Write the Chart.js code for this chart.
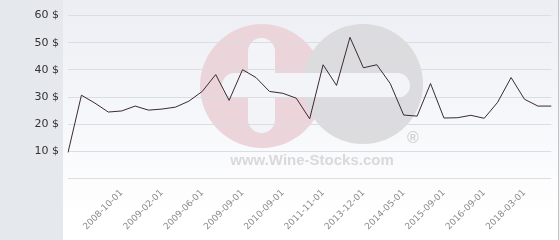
<!DOCTYPE html>
<html lang="en">
<head>
  <meta charset="UTF-8">
  <title>Wine price history</title>
  <script src="https://cdn.jsdelivr.net/npm/chart.js"></script>
  <style>
    html, body {
      margin: 0;
      padding: 0;
      background: #fff;
    }
    canvas { display: block; }
  </style>
</head>
<body>
  <canvas id="priceChart" width="560" height="240"></canvas>

  <script>
    // dates shown on the x axis (blank = point without a visible label)
    const dates = [
      '', '', '', '', '2008-10-01', '', '', '2009-02-01', '', '',
      '2009-06-01', '', '', '2009-09-01', '', '', '2010-09-01', '', '',
      '2011-11-01', '', '', '2013-12-01', '', '', '2014-05-01', '', '',
      '2015-09-01', '', '', '2016-09-01', '', '', '2018-03-01', '', ''
    ];
    // price in $
    const prices = [
      9.6, 30.7, 27.8, 24.5, 24.9, 26.7, 25.2, 25.6, 26.3, 28.5,
      32.1, 38.3, 28.8, 40.1, 37.2, 32.1, 31.4, 29.6, 22.0, 41.9,
      34.3, 52.0, 40.8, 41.9, 35.0, 23.4, 23.0, 35.0, 22.3, 22.4,
      23.3, 22.2, 28.1, 37.2, 29.2, 26.7, 26.7
    ];
    const yMin = 0, yMax = 60, yStep = 10;

    // backgrounds + watermark, drawn under grid and line
    const bgPlugin = {
      id: 'bg',
      beforeDraw(chart) {
        const ctx = chart.ctx;
        ctx.save();
        const g = ctx.createLinearGradient(0, 0, 0, 215);
        g.addColorStop(0, '#eceef4');
        g.addColorStop(1, '#ffffff');
        ctx.fillStyle = g;
        ctx.fillRect(63, 0, 495, 240);
        ctx.fillStyle = '#e5e9ed';
        ctx.fillRect(0, 0, 63, 240);
        ctx.fillStyle = '#f3f3f5';
        ctx.fillRect(558, 0, 2, 240);
        ctx.fillStyle = '#c2c3c7';
        ctx.fillRect(558, 0, 1, 240);

        // logo
        ctx.fillStyle = '#ebd5db';
        ctx.beginPath(); ctx.arc(262, 86, 62, 0, Math.PI * 2); ctx.fill();
        ctx.fillStyle = '#dcdcde';
        ctx.beginPath(); ctx.arc(363, 84, 60, 0, Math.PI * 2); ctx.fill();
        ctx.fillStyle = '#f3f4f7';
        ctx.beginPath(); ctx.roundRect(222, 73, 188, 25, 12.5); ctx.fill();
        ctx.beginPath(); ctx.roundRect(248, 38, 27, 95, 13.5); ctx.fill();

        ctx.fillStyle = '#d2d2d4';
        ctx.font = 'bold 16px "Liberation Sans"';
        ctx.textAlign = 'center';
        ctx.textBaseline = 'middle';
        ctx.fillText('\u00AE', 413, 139);

        ctx.fillStyle = '#d9d9db';
        let txt = 'www.Wine-Stocks.com';
        ctx.font = 'bold 16px "Liberation Sans"';
        let w = ctx.measureText(txt).width;
        let size = 16 * 164 / w;
        ctx.font = 'bold ' + size.toFixed(1) + 'px "Liberation Sans"';
        ctx.textBaseline = 'alphabetic';
        ctx.fillText(txt, 312, 165);
        ctx.restore();
      }
    };

    new Chart(document.getElementById('priceChart'), {
      type: 'line',
      data: {
        labels: dates,
        datasets: [{
          data: prices,
          borderColor: '#3a2a33',
          borderWidth: 1,
          pointRadius: 0,
          tension: 0,
          fill: false
        }]
      },
      options: {
        responsive: false,
        animation: false,
        layout: { padding: { top: 13, right: 5, left: 0, bottom: 0 } },
        plugins: {
          legend: { display: false },
          tooltip: { enabled: false }
        },
        scales: {
          x: {
            offset: false,
            grid: { display: false },
            border: { display: false },
            afterFit: s => { s.height = 61.4; },
            ticks: {
              autoSkip: false,
              minRotation: 45,
              maxRotation: 45,
              padding: 1,
              color: '#8a8a8a',
              font: { family: 'DejaVu Sans', size: 9 }
            }
          },
          y: {
            min: yMin,
            max: yMax,
            afterFit: s => { s.width = 68; },
            grid: { color: '#dcdde2', drawTicks: false },
            border: { display: false },
            ticks: {
              stepSize: yStep,
              padding: 9,
              color: '#333',
              font: { family: 'DejaVu Sans', size: 11 },
              callback: v => v === 0 ? '' : v + ' $'
            }
          }
        }
      },
      plugins: [bgPlugin]
    });
  </script>
</body>
</html>
